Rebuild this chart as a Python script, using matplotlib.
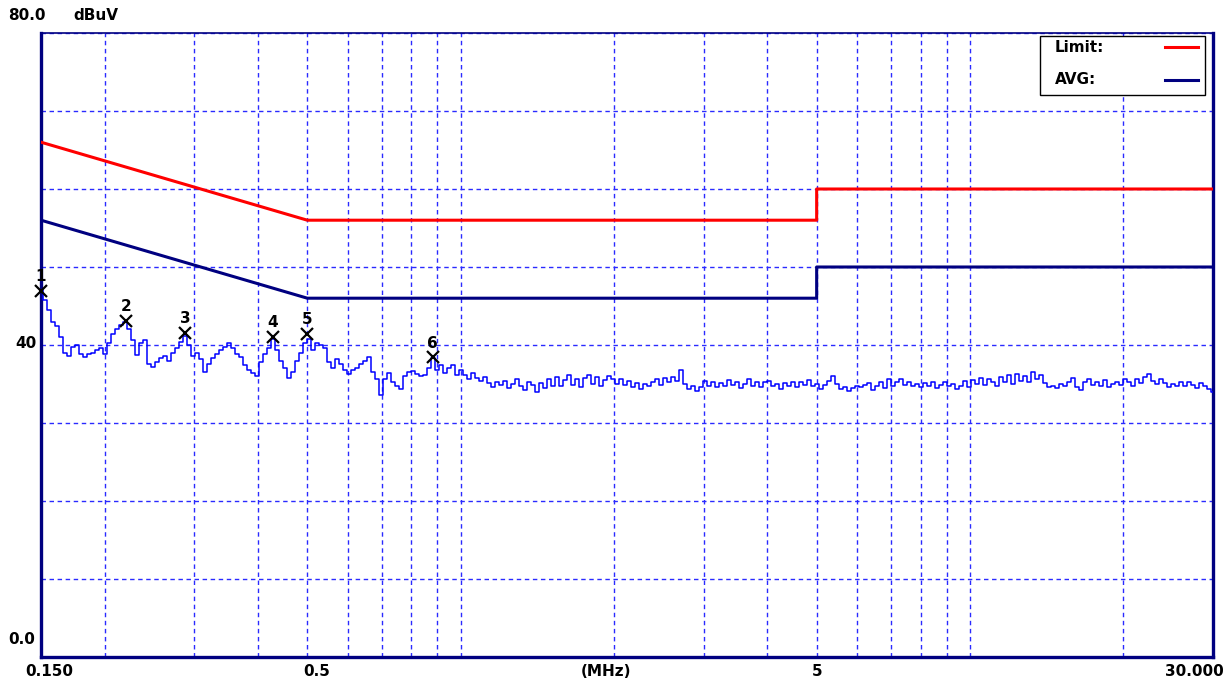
import numpy as np
import matplotlib

matplotlib.use("Agg")
import matplotlib.pyplot as plt
from matplotlib.patches import Rectangle

W, H = 1232, 681

# limit lines (CISPR class B, conducted)
LIMIT_FREQ = [0.15, 0.5, 5.0, 5.0, 30.0]
LIMIT_QP = [66.0, 56.0, 56.0, 60.0, 60.0]
LIMIT_AVG = [56.0, 46.0, 46.0, 50.0, 50.0]

# grid frequencies (MHz)
GRID_FREQS = [0.2, 0.3, 0.4, 0.5, 0.6, 0.7, 0.8, 0.9, 1, 2, 3, 4, 5, 6, 7, 8, 9, 10, 20]
GRID_LEVELS = list(range(0, 81, 10))

# measured trace, dBuV, sweep 0.15 .. 30 MHz (log spaced)
TRACE_LEVELS = [
    47.0, 45.8, 44.5, 43.0, 42.4, 41.0, 39.0, 38.6, 39.8, 40.0,
    38.8, 38.4, 38.9, 39.0, 39.4, 39.6, 38.8, 40.2, 41.4, 42.0,
    42.6, 43.0, 42.0, 40.6, 38.7, 40.2, 40.6, 37.6, 37.2, 37.8,
    38.3, 38.6, 37.9, 39.0, 39.6, 40.4, 41.2, 40.0, 38.6, 39.0,
    38.2, 36.6, 37.6, 38.3, 38.8, 39.3, 39.7, 40.2, 39.6, 38.9,
    38.4, 37.4, 36.8, 36.4, 36.0, 37.8, 38.8, 39.6, 40.8, 39.4,
    38.0, 37.0, 35.8, 36.6, 38.0, 39.0, 40.2, 40.8, 39.4, 40.2,
    40.0, 39.6, 37.8, 37.0, 38.2, 37.6, 36.8, 36.3, 36.8, 37.0,
    37.6, 38.0, 38.4, 36.6, 35.6, 33.6, 35.6, 36.4, 35.2, 34.8,
    34.4, 36.0, 36.5, 36.7, 36.3, 36.0, 36.1, 37.0, 38.3, 36.8,
    37.4, 36.4, 37.0, 37.4, 36.2, 36.8,
    36.2, 35.6, 36.4, 35.8, 35.4, 35.9, 35.1, 34.6, 35.3, 34.9,
    35.4, 34.5, 35.0, 35.6, 34.8, 34.2, 35.2, 34.9, 34.0, 35.1,
    34.5, 35.6, 34.8, 35.9, 34.7, 35.5, 36.1, 34.9, 35.7, 34.6,
    35.8, 36.2, 35.0, 35.9, 34.8, 35.5, 36.0, 35.6, 35.0, 35.7,
    34.9, 35.4, 34.6, 35.1, 34.4, 35.0, 34.7, 35.3, 35.6, 34.9,
    35.8, 35.2, 35.9, 35.4, 36.8, 35.0, 34.3, 34.8, 34.1, 34.6,
    35.4, 34.8, 35.3, 34.6, 35.1, 34.7, 35.5, 34.9, 35.2, 34.5,
    35.0, 35.6, 34.8, 35.3, 34.6, 35.2, 35.4, 34.7, 35.0, 34.4,
    35.1, 34.8, 35.3, 34.6, 35.2, 34.9, 35.5, 34.7, 35.0, 34.4,
    34.9, 35.4, 36.0, 35.0, 34.3, 34.6, 34.1, 34.5, 34.8, 34.6,
    34.9, 35.1, 34.2, 34.7, 35.3, 34.5, 35.6, 34.8, 35.2, 35.7,
    34.9, 35.3, 34.7, 35.0, 34.6, 35.1, 34.8, 35.2, 34.5, 34.9,
    35.3, 34.7, 35.0, 34.4, 34.8, 35.4, 34.6, 35.5, 35.0, 35.8,
    34.9, 35.6, 35.2, 34.7, 35.9, 35.3, 36.1, 35.0, 36.3, 35.4,
    36.0, 35.2, 36.5, 35.6, 36.2, 35.1, 34.6, 34.8, 34.5, 35.0,
    34.7, 35.2, 35.8, 34.6, 34.2, 35.3, 35.7, 34.9, 35.2, 34.8,
    35.5, 34.6, 35.0, 35.3, 34.9, 35.6, 35.2, 34.8, 35.7, 35.1,
    35.9, 36.3, 35.4, 35.0, 35.6, 35.1, 34.6, 35.0, 34.7, 35.2,
    34.8, 35.3, 34.9, 34.5, 35.1, 34.7, 34.3, 34.0,
]
TRACE_FREQ = np.geomspace(0.15, 30.0, len(TRACE_LEVELS))

# peak markers
MARKER_IDS = ["1", "2", "3", "4", "5", "6"]
MARKER_FREQ = [0.150, 0.220, 0.288, 0.428, 0.500, 0.882]
MARKER_LEVEL = [46.9, 43.1, 41.5, 41.0, 41.4, 38.4]

NAVY = "#000080"
BLUE = "#0000ff"
GRID_BLUE = "#2a2aff"
RED = "#ff0000"

fig = plt.figure(figsize=(W / 100, H / 100), dpi=100)
fig.patch.set_facecolor("white")
ax = fig.add_axes([41 / W, 1 - 657 / H, 1172 / W, 624 / H])

ax.set_xscale("log")
ax.set_xlim(0.15, 30)
ax.set_ylim(0, 80)

ax.set_xticks(GRID_FREQS)
ax.set_xticks([], minor=True)
ax.set_yticks(GRID_LEVELS)
ax.tick_params(which="both", length=0, labelbottom=False, labelleft=False)
ax.grid(True, color=GRID_BLUE, linestyle=(0, (3.2, 2.6)), linewidth=1.0)
ax.set_axisbelow(True)

for side in ["left", "bottom", "right"]:
    ax.spines[side].set_color(NAVY)
    ax.spines[side].set_linewidth(2.4)
ax.spines["top"].set_color(NAVY)
ax.spines["top"].set_linewidth(1.2)

ax.plot(TRACE_FREQ, TRACE_LEVELS, color=BLUE, linewidth=1.1, drawstyle="steps-mid", zorder=3)
ax.plot(LIMIT_FREQ, LIMIT_QP, color=RED, linewidth=2.2, zorder=4)
ax.plot(LIMIT_FREQ, LIMIT_AVG, color=NAVY, linewidth=2.2, zorder=4)

ax.plot(MARKER_FREQ, MARKER_LEVEL, linestyle="none", marker="x", markersize=9,
        markeredgewidth=1.6, color="black", clip_on=False, zorder=5)
for mid, f, lv in zip(MARKER_IDS, MARKER_FREQ, MARKER_LEVEL):
    ax.annotate(mid, xy=(f, lv), xytext=(0, 5), textcoords="offset points",
                ha="center", va="bottom", fontsize=11, fontweight="bold",
                color="black", annotation_clip=False, zorder=5)


def px(x, y):
    # pixel position -> figure fraction
    return x / W, 1 - y / H


# legend box: text on the left, line sample on the right
x0, y1 = px(1040, 36)
x1, y0 = px(1205, 95)
fig.add_artist(Rectangle((x0, y0), x1 - x0, y1 - y0, transform=fig.transFigure,
                         facecolor="white", edgecolor="black", linewidth=1.0, zorder=10))
for name, color, ypix in [("Limit:", RED, 47), ("AVG:", NAVY, 80)]:
    tx, ty = px(1055, ypix)
    fig.text(tx, ty, name, ha="left", va="center", fontsize=11, fontweight="bold",
             color="black", zorder=11)
    lx0, ly = px(1165, ypix)
    lx1, _ = px(1198, ypix)
    fig.add_artist(plt.Line2D([lx0, lx1], [ly, ly], transform=fig.transFigure,
                              color=color, linewidth=2.2, zorder=11))


def label(x, y, s, ha="center"):
    fx, fy = px(x, y)
    fig.text(fx, fy, s, ha=ha, va="center", fontsize=11,
             fontweight="bold", color="black")


label(8, 16, "80.0", ha="left")
label(73, 16, "dBuV", ha="left")
label(15, 343, "40", ha="left")
label(8, 640, "0.0", ha="left")
label(25, 672, "0.150", ha="left")
label(317, 672, "0.5")
label(606, 672, "(MHz)")
label(817, 672, "5")
label(1224, 672, "30.000", ha="right")

fig.savefig("out.png", dpi=100)
